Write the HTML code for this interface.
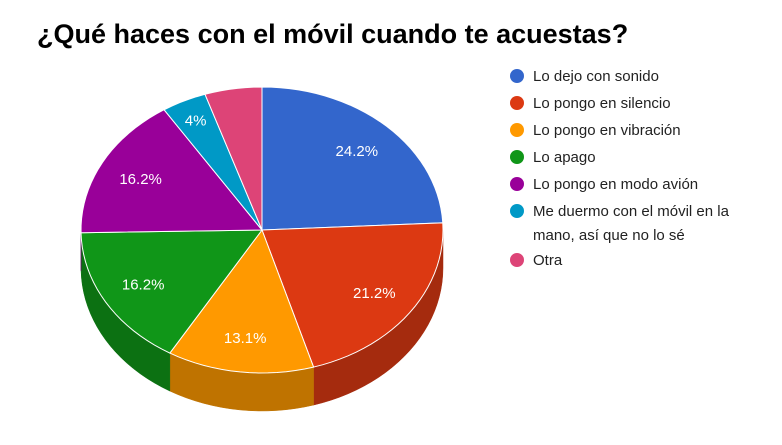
<!DOCTYPE html>
<html><head><meta charset="utf-8"><style>
body{margin:0;background:#fff;width:782px;height:440px;overflow:hidden;font-family:"Liberation Sans",Arial,sans-serif}
</style></head><body>
<svg id="chart" width="782" height="440" xmlns="http://www.w3.org/2000/svg">
<text x="37" y="43" font-size="27" font-weight="bold" fill="#000" font-family="Liberation Sans, Arial, sans-serif">¿Qué haces con el móvil cuando te acuestas?</text>
<g id="sides"></g><g id="tops"></g><g id="labels"></g><g id="legend"></g>
</svg>
<script>
const categories=["Lo dejo con sonido","Lo pongo en silencio","Lo pongo en vibración","Lo apago","Lo pongo en modo avión","Me duermo con el móvil en la|mano, así que no lo sé","Otra"];
const values=[24.2,21.2,13.1,16.2,16.2,4,5.1];
const labels=["24.2%","21.2%","13.1%","16.2%","16.2%","4%",""];
const colors=["#3366cc","#dc3912","#ff9900","#109618","#990099","#0099c6","#dd4477"];
const sideColors=["#26509a","#a52b0e","#bf7300","#0c7112","#730073","#007395","#a63359"];
const NS="http://www.w3.org/2000/svg";
const cx=262,cy=230,rx=181,ry=143,depth=38;
const total=values.reduce((a,b)=>a+b,0);
function pt(a,dy){const r=a*Math.PI/180;return [cx+rx*Math.sin(r),cy-ry*Math.cos(r)+(dy||0)];}
function arc(a1,a2,dy){let d="";const n=Math.max(2,Math.ceil(Math.abs(a2-a1)/3));for(let i=0;i<=n;i++){const p=pt(a1+(a2-a1)*i/n,dy);d+=(i?"L":"")+p[0].toFixed(2)+","+p[1].toFixed(2);}return d;}
const sides=document.getElementById("sides"),tops=document.getElementById("tops"),lab=document.getElementById("labels"),leg=document.getElementById("legend");
let acc=0;
values.forEach((v,i)=>{
 const a1=acc/total*360,a2=(acc+v)/total*360;acc+=v;
 const s1=Math.max(a1,90),s2=Math.min(a2,270);
 if(s2>s1){
  const p=document.createElementNS(NS,"path");
  
  
  const back=arc(s2,s1,depth);
  p.setAttribute("d","M"+arc(s1,s2,0)+"L"+back+"Z");
  p.setAttribute("fill",sideColors[i]);p.setAttribute("stroke",sideColors[i]);p.setAttribute("stroke-width","0.5");
  sides.appendChild(p);
 }
 const t=document.createElementNS(NS,"path");
 
 
 t.setAttribute("d","M"+cx+","+cy+"L"+arc(a1,a2,0)+"Z");
 t.setAttribute("fill",colors[i]);t.setAttribute("stroke","#fff");t.setAttribute("stroke-width","1");
 tops.appendChild(t);
 if(labels[i]){
  const m=(a1+a2)/2*Math.PI/180;
  const f=v<6?0.85:0.76;
  const x=cx+rx*f*Math.sin(m),y=cy-ry*f*Math.cos(m);
  const tx=document.createElementNS(NS,"text");
  
  
  tx.setAttribute("x",x);tx.setAttribute("y",y+5);tx.setAttribute("text-anchor","middle");
  tx.setAttribute("font-size","15");tx.setAttribute("fill","#fff");
  tx.textContent=labels[i];lab.appendChild(tx);
 }
});
let ly=76;
categories.forEach((c,i)=>{
 const g=document.createElementNS(NS,"g");
 
 
 const ci=document.createElementNS(NS,"circle");
 ci.setAttribute("cx",517);ci.setAttribute("cy",ly);ci.setAttribute("r",7);ci.setAttribute("fill",colors[i]);
 g.appendChild(ci);
 c.split("|").forEach((line,k)=>{
  const tx=document.createElementNS(NS,"text");
  tx.setAttribute("x",533);tx.setAttribute("y",ly+5+k*24);tx.setAttribute("font-size","15");tx.setAttribute("fill","#222");
  tx.textContent=line;g.appendChild(tx);
 });
 leg.appendChild(g);
 ly+=27+(c.split("|").length-1)*22;
});
</script>
</body></html>
